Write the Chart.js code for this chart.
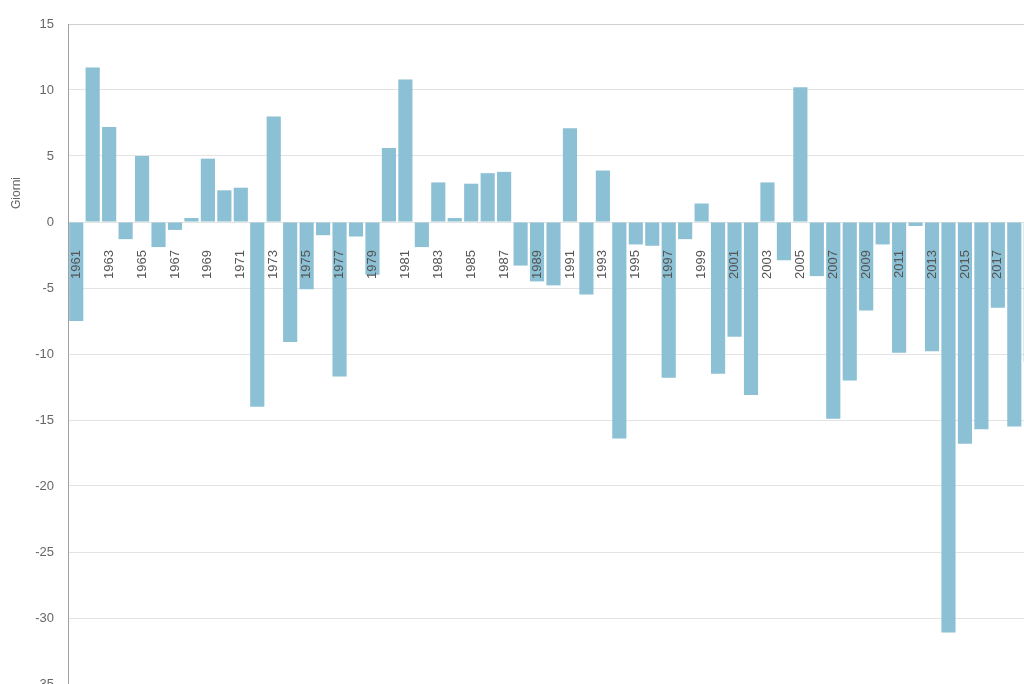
<!DOCTYPE html>
<html>
<head>
<meta charset="utf-8">
<script src="https://cdn.jsdelivr.net/npm/chart.js@4/dist/chart.umd.min.js"></script>
<style>
  html, body { margin: 0; padding: 0; background: #fff; overflow: hidden; width: 1024px; height: 684px; }
  #chartGiorni { position: absolute; left: 0; top: 0; }
</style>
</head>
<body>
<canvas id="chartGiorni" width="1040" height="700"></canvas>
<script>
  // anni 1961-2019, scarto in giorni
  var years = ['1961', '1962', '1963', '1964', '1965', '1966', '1967', '1968', '1969', '1970',
               '1971', '1972', '1973', '1974', '1975', '1976', '1977', '1978', '1979', '1980',
               '1981', '1982', '1983', '1984', '1985', '1986', '1987', '1988', '1989', '1990',
               '1991', '1992', '1993', '1994', '1995', '1996', '1997', '1998', '1999', '2000',
               '2001', '2002', '2003', '2004', '2005', '2006', '2007', '2008', '2009', '2010',
               '2011', '2012', '2013', '2014', '2015', '2016', '2017', '2018', '2019'];
  var giorni = [-7.5, 11.7, 7.2, -1.3, 5.0, -1.9, -0.6, 0.3, 4.8, 2.4,
                2.6, -14.0, 8.0, -9.1, -5.1, -1.0, -11.7, -1.1, -4.0, 5.6,
                10.8, -1.9, 3.0, 0.3, 2.9, 3.7, 3.8, -3.3, -4.5, -4.8,
                7.1, -5.5, 3.9, -16.4, -1.7, -1.8, -11.8, -1.3, 1.4, -11.5,
                -8.7, -13.1, 3.0, -2.9, 10.2, -4.1, -14.9, -12.0, -6.7, -1.7,
                -9.9, -0.3, -9.8, -31.1, -16.8, -15.7, -6.5, -15.5, -10.6];
  var yMin = -35, yMax = 15, yStep = 5;

  var font = "'Liberation Sans', Arial, sans-serif";

  var yTitle = {
    id: 'yTitle',
    afterDraw: function (chart) {
      var ctx = chart.ctx;
      ctx.save();
      ctx.translate(17, 193);
      ctx.rotate(-Math.PI / 2);
      ctx.font = '12px ' + font;
      ctx.fillStyle = '#666';
      ctx.textAlign = 'center';
      ctx.textBaseline = 'middle';
      ctx.fillText('Giorni', 0, 0);
      ctx.restore();
    }
  };

  new Chart(document.getElementById('chartGiorni'), {
    type: 'bar',
    data: {
      labels: years,
      datasets: [{
        label: 'Giorni',
        data: giorni,
        backgroundColor: '#8cc0d4',
        categoryPercentage: 1,
        barPercentage: 0.86
      }]
    },
    options: {
      responsive: false,
      animation: false,
      devicePixelRatio: 1,
      layout: { padding: { left: 0, top: 24, right: 1, bottom: 16 } },
      plugins: { legend: { display: false }, tooltip: { enabled: false } },
      scales: {
        x: {
          position: { y: 0 },
          grid: { display: false, drawTicks: false },
          border: { display: false },
          ticks: {
            z: 1,
            autoSkip: false,
            minRotation: 90,
            maxRotation: 90,
            padding: 28,
            color: '#555',
            font: { family: font, size: 13 },
            callback: function (v, i) { return i % 2 === 0 ? years[i] : ''; }
          },
          afterFit: function (s) { s.height = 0; s.paddingLeft = 0; s.paddingRight = 0; }
        },
        y: {
          min: yMin,
          max: yMax,
          grid: {
            drawTicks: false,
            color: function (c) { return c.tick && c.tick.value === yMax ? '#cfcfcf' : '#e3e3e3'; }
          },
          border: { display: true, color: '#a0a0a0' },
          ticks: {
            stepSize: yStep,
            padding: 14,
            color: '#666',
            font: { family: font, size: 13 }
          },
          afterFit: function (s) { s.width = 68; s.paddingTop = 0; s.paddingBottom = 0; }
        }
      }
    },
    plugins: [yTitle]
  });
</script>
</body>
</html>
